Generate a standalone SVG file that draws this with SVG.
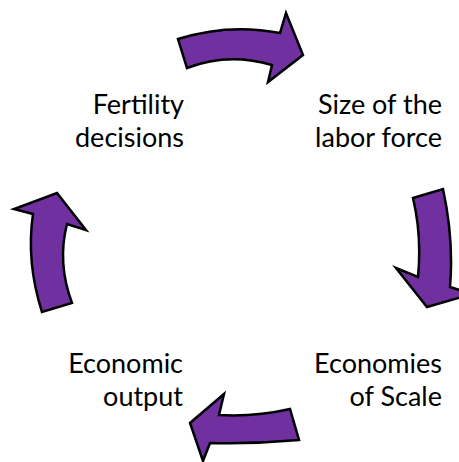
<svg xmlns="http://www.w3.org/2000/svg" width="459" height="462" viewBox="0 0 459 462">
<style>
.arrow{fill:#7030A0;stroke:#000;stroke-width:2.5;stroke-linejoin:miter}
.lbl{font-family:Lato,"Open Sans",sans-serif;font-size:27px;fill:#000;text-anchor:end}
</style>
<rect width="459" height="462" fill="#fff"/>
<g id="connectors">
<path class="arrow" d="M178,39 Q229,23 280,33 L286,13 L303,55 L268,82 L272,65 Q228,52 187,68 Z"/>
<path class="arrow" d="M413,198 L443,189 Q454,240 450,287 L472,294 L427,307 L396,268 L418,277 Q422,236 413,198 Z"/>
<path class="arrow" d="M290,409 Q255,417 219,415 L224,394 L190,423 L203,461 L210,443 Q255,444 299,440 Z"/>
<path class="arrow" d="M42,312 Q26,262 33,214 L14,209 L57,193 L86,230 L67,224 Q57,263 72,303 Z"/>
</g>
<g id="fertility">
<text class="lbl" x="184" y="114">Fertility<tspan x="184" dy="33">decisions</tspan></text>
</g>
<g id="labor">
<text class="lbl" x="442" y="114">Size of the<tspan x="442" dy="33">labor force</tspan></text>
</g>
<g id="output">
<text class="lbl" x="183" y="373">Economic<tspan x="183" dy="33">output</tspan></text>
</g>
<g id="scale">
<text class="lbl" x="442" y="373">Economies<tspan x="442" dy="33">of Scale</tspan></text>
</g>
</svg>
